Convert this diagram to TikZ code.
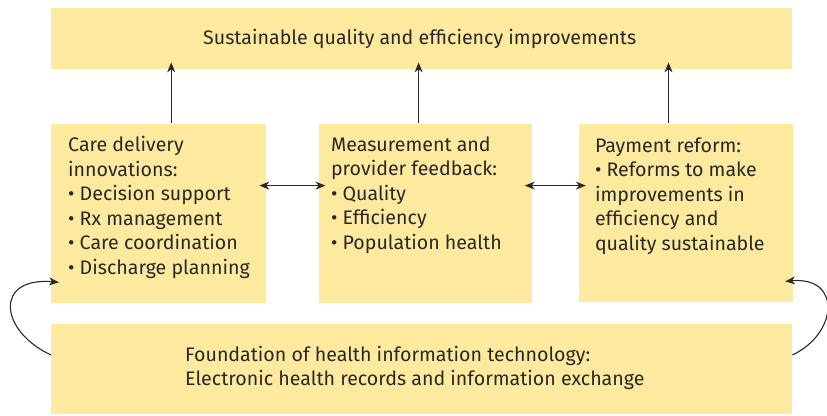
\documentclass[tikz,border=0pt]{standalone}
\usepackage{fontspec}
\setmainfont{Fira Sans}
\usetikzlibrary{arrows.meta, positioning}

\definecolor{boxfill}{RGB}{254,234,158}
\definecolor{inkgray}{RGB}{40,40,40}
\newcommand{\blockfont}{\fontsize{19.6}{24.5}\selectfont}

\begin{document}
\begin{tikzpicture}[x=1pt, y=1pt,
						block/.style={fill=boxfill, draw=none, inner sep=0, anchor=north west},
						txt/.style={inner sep=0, align=left, font=\blockfont, text=inkgray},
						link/.style={draw=inkgray, line width=1.1pt, shorten > = -7pt, -{Stealth[length=10pt, width=8pt]}},
						both/.style={link, shorten < = -7pt, {Stealth[length=10pt, width=8pt]}-{Stealth[length=10pt, width=8pt]}},]
		\useasboundingbox (0,0) rectangle (827,415);

		% boxes
		\node (goal) [block, minimum width=741pt, minimum height=61pt] at (51,407) {};
		\node (care) [block, minimum width=215pt, minimum height=179pt, below=54pt of goal.south west, anchor=north west] {};
		\node (measure) [block, minimum width=213pt, minimum height=179pt, right=52pt of care.north east, anchor=north west] {};
		\node (payment) [block, minimum width=214pt, minimum height=178pt, right=47pt of measure.north east, anchor=north west] {};
		\node (hit) [block, minimum width=741pt, minimum height=90pt, below=21pt of care.south west, anchor=north west] {};

		% texts
		\node (goal_txt) [txt] at ([xshift=-2pt]goal.center) {Sustainable quality and efficiency improvements};
		\node (care_txt) [txt, below right=13pt and 17pt of care.north west] {Care delivery\\innovations:\\\textbullet\ Decision support\\\textbullet\ Rx management\\\textbullet\ Care coordination\\\textbullet\ Discharge planning};
		\node (measure_txt) [txt, below right=13pt and 12.5pt of measure.north west] {Measurement and\\provider feedback:\\\textbullet\ Quality\\\textbullet\ Efficiency\\\textbullet\ Population health};
		\node (payment_txt) [txt, below right=14pt and 16pt of payment.north west] {Payment reform:\\\textbullet\ Reforms to make\\improvements in\\efficiency and\\quality sustainable};
		\node (hit_txt) [txt, below right=22pt and 134pt of hit.north west] {Foundation of health information technology:\\Electronic health records and information exchange};

		% arrows
		\draw[link] ([xshift=12.5pt]care.north) -- ([xshift=12.5pt]care.north |- goal.south);
		\draw[link] ([xshift=-6.5pt]measure.north) -- ([xshift=-6.5pt]measure.north |- goal.south);
		\draw[link] ([xshift=-17.5pt]payment.north) -- ([xshift=-17.5pt]payment.north |- goal.south);
		\draw[both] ([yshift=27.5pt]care.east) -- ([yshift=27.5pt]care.east -| measure.west);
		\draw[both] ([yshift=27.5pt]measure.east) -- ([yshift=27.5pt]measure.east -| payment.west);
		\draw[link, shorten > = -8pt] ([yshift=14pt]hit.west) to[out=155, in=175, looseness=2] ([yshift=-68.5pt]care.west);
		\draw[link, shorten > = -8pt] ([yshift=14pt]hit.east) to[out=25, in=5, looseness=1.7] ([yshift=-68pt]payment.east);
	\end{tikzpicture}
\end{document}
